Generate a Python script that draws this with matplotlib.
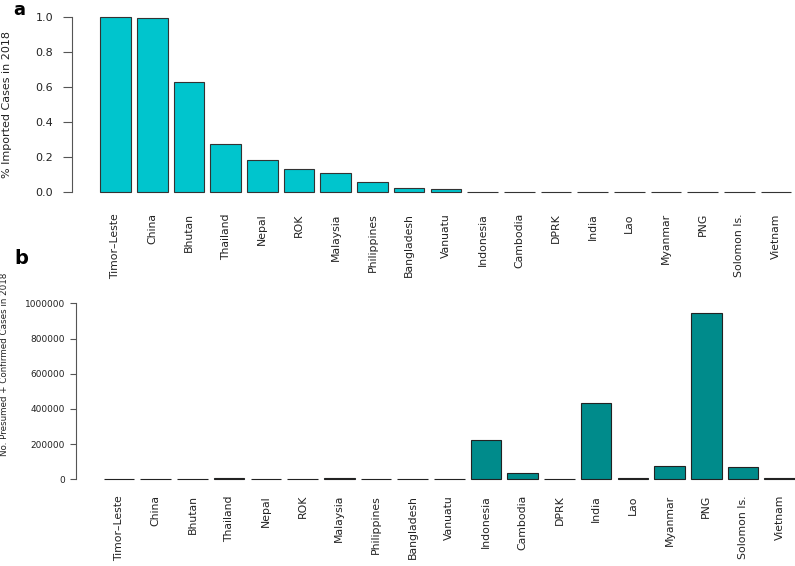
import numpy as np
import matplotlib
matplotlib.use("Agg")
import matplotlib.pyplot as plt

countries = ["Timor\u2013Leste", "China", "Bhutan", "Thailand", "Nepal", "ROK", "Malaysia",
             "Philippines", "Bangladesh", "Vanuatu", "Indonesia", "Cambodia", "DPRK",
             "India", "Lao", "Myanmar", "PNG", "Solomon Is.", "Vietnam"]
pct_imported = [1.0, 0.994, 0.631, 0.277, 0.184, 0.131, 0.106, 0.055, 0.022, 0.018,
                0, 0, 0, 0, 0, 0, 0, 0, 0]
cases = [50, 2500, 100, 6000, 3000, 600, 5000, 2000, 1000, 300,
         223000, 38000, 3500, 432000, 9000, 75000, 946000, 71000, 5000]

W, H = 795, 566
fig = plt.figure(figsize=(W / 100, H / 100), dpi=100)

step = 36.7
bw = 30.6 / step
x = np.arange(len(countries))


def px_axes(left, top, right, bottom):
    return fig.add_axes([left / W, 1 - bottom / H, (right - left) / W, (bottom - top) / H])


# panel a
ax1 = px_axes(72, 10, 795, 200)
ax1.bar(x, pct_imported, width=bw, color="#00C5CD", edgecolor="#333333", linewidth=0.8)
ax1.set_xlim(-(115.5 - 72) / step, (795 - 115.5) / step)
ax1.set_ylim(-8 / 176, 1 + 7 / 176)
for s in ["top", "right", "bottom"]:
    ax1.spines[s].set_visible(False)
ax1.spines["left"].set_bounds(0, 1)
ax1.spines["left"].set_color("#555555")
ax1.set_yticks([0, 0.2, 0.4, 0.6, 0.8, 1.0])
ax1.set_yticklabels(["0.0", "0.2", "0.4", "0.6", "0.8", "1.0"])
ax1.tick_params(axis="y", length=6.5, width=0.8, color="#555555", pad=7, labelsize=8, labelcolor="#222222")
ax1.set_xticks(x)
ax1.set_xticklabels(countries, rotation=90, va="top", ha="center")
ax1.tick_params(axis="x", length=0, pad=9.5, labelsize=7.8, labelcolor="#222222")

# panel b
ax2 = px_axes(76, 296, 795, 487)
ax2.bar(x, cases, width=bw, color="#008B8B", edgecolor="#222222", linewidth=0.8)
ax2.set_xlim(-(119 - 76) / step, (795 - 119) / step)
ax2.set_ylim(-(487 - 479.3) / 176 * 1e6, 1e6 + (303.3 - 296) / 176 * 1e6)
for s in ["top", "right", "bottom"]:
    ax2.spines[s].set_visible(False)
ax2.spines["left"].set_bounds(0, 1e6)
ax2.spines["left"].set_color("#555555")
yt = [0, 200000, 400000, 600000, 800000, 1000000]
ax2.set_yticks(yt)
ax2.set_yticklabels([str(v) for v in yt])
ax2.tick_params(axis="y", length=4, width=0.8, color="#555555", pad=4, labelsize=6.5, labelcolor="#222222")
ax2.set_xticks(x)
ax2.set_xticklabels(countries, rotation=90, va="top", ha="center")
ax2.tick_params(axis="x", length=0, pad=5.8, labelsize=7.8, labelcolor="#222222")

fig.text(7 / W, 1 - 104 / H, "% Imported Cases in 2018", rotation=90, ha="center", va="center",
         fontsize=8, color="#222222")
fig.text(5 / W, 1 - 364 / H, "No. Presumed + Confirmed Cases in 2018", rotation=90, ha="center",
         va="center", fontsize=6.3, color="#222222")
fig.text(19 / W, 1 - 1 / H, "a", ha="center", va="top", fontsize=13, fontweight="bold")
fig.text(21 / W, 1 - 258 / H, "b", ha="center", va="center", fontsize=14, fontweight="bold")

fig.savefig("out.png", dpi=100)
